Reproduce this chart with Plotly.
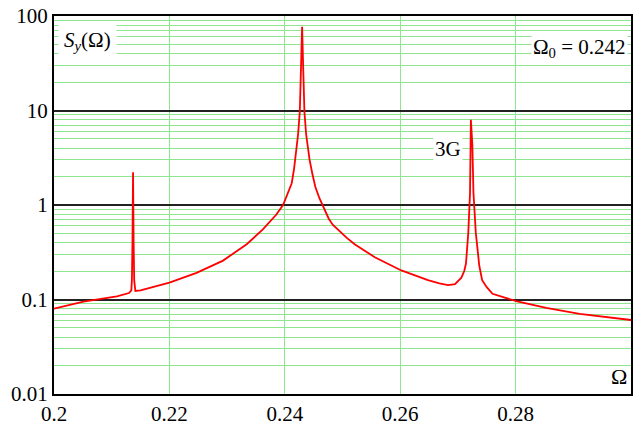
import plotly.graph_objects as go

omega = [0.2000, 0.2051, 0.2109, 0.2130, 0.2134, 0.2135, 0.2136, 0.2137, 0.2138, 0.2139,
         0.2141, 0.2150, 0.2200, 0.2247, 0.2293, 0.2334, 0.2362, 0.2385, 0.2397, 0.2405,
         0.2412, 0.2416, 0.2419, 0.2423, 0.2426, 0.2428, 0.2430, 0.2432, 0.2434, 0.2437,
         0.2440, 0.2443, 0.2448, 0.2453, 0.2460, 0.2466, 0.2471, 0.2476, 0.2483, 0.2492,
         0.2507, 0.2521, 0.2556, 0.2602, 0.2648, 0.2668, 0.2683, 0.2695, 0.2706, 0.2711,
         0.2714, 0.2718, 0.2721, 0.2722, 0.27225, 0.2725, 0.2727, 0.2731, 0.2737, 0.2742,
         0.2750, 0.2760, 0.2786, 0.2801, 0.2853, 0.2911, 0.3000]
s_y = [0.080, 0.095, 0.108, 0.117, 0.125, 0.16, 0.40, 2.22, 0.40, 0.16,
       0.123, 0.125, 0.151, 0.191, 0.258, 0.385, 0.551, 0.789, 1.0, 1.30,
       1.70, 2.40, 3.45, 5.57, 9.7, 27, 77, 27, 9.7, 5.57,
       4.0, 3.0, 2.1, 1.55, 1.18, 0.98, 0.83, 0.72, 0.62, 0.55,
       0.452, 0.385, 0.28, 0.203, 0.160, 0.148, 0.142, 0.145, 0.17, 0.20,
       0.24, 0.51, 1.33, 4.4, 7.96, 4.4, 1.33, 0.51, 0.229, 0.16,
       0.135, 0.115, 0.103, 0.096, 0.0815, 0.0705, 0.0607]

x_ticks = [0.2, 0.22, 0.24, 0.26, 0.28]
x_labels = ["0.2", "0.22", "0.24", "0.26", "0.28"]
y_ticks = [0.01, 0.1, 1, 10, 100]
y_labels = ["0.01", "0.1", "1", "10", "100"]
y_minor = [k * 10 ** e for e in range(-2, 2) for k in range(2, 10)]

FONT = "Liberation Serif"
GREEN = "#8fe68f"
FS = 21

fig = go.Figure()
fig.add_trace(go.Scatter(x=omega, y=s_y, mode="lines",
                         line=dict(color="#ff0000", width=1.8), showlegend=False))

fig.update_layout(
    width=637, height=430,
    margin=dict(l=54, r=4, t=12, b=33),
    paper_bgcolor="white", plot_bgcolor="white",
    font=dict(family=FONT, size=FS, color="black"),
    xaxis=dict(range=[0.2, 0.3], tickmode="array", tickvals=x_ticks, ticktext=x_labels,
               showgrid=True, gridcolor=GREEN, gridwidth=1, zeroline=False,
               showline=True, linecolor="black", linewidth=2, mirror=True,
               ticks="", ticklen=0, tickfont=dict(family=FONT, size=FS)),
    yaxis=dict(type="log", range=[-2, 2], tickmode="array", tickvals=y_ticks, ticktext=y_labels,
               showgrid=True, gridcolor="#222222", gridwidth=1.5, zeroline=False,
               showline=True, linecolor="black", linewidth=2, mirror=True,
               ticks="", ticklen=0, tickfont=dict(family=FONT, size=FS),
               minor=dict(tickmode="array", tickvals=y_minor, showgrid=True,
                          gridcolor=GREEN, gridwidth=1, ticks="")),
)

fig.add_annotation(xref="paper", yref="paper", x=0.007, y=0.985, xanchor="left", yanchor="top",
                   text="<i>S</i><sub><i>y</i></sub>(Ω)", showarrow=False,
                   bgcolor="white", font=dict(family=FONT, size=FS), borderpad=5)
fig.add_annotation(xref="paper", yref="paper", x=0.995, y=0.955, xanchor="right", yanchor="top",
                   text="Ω<sub>0</sub> = 0.242", showarrow=False,
                   bgcolor="white", font=dict(family=FONT, size=FS), borderpad=1)
fig.add_annotation(xref="x", yref="y", x=0.2709, y=0.59, text="3G", showarrow=False,
                   xanchor="right", yanchor="middle",
                   bgcolor="white", font=dict(family=FONT, size=FS))
fig.add_annotation(xref="paper", yref="paper", x=0.997, y=0.008, xanchor="right", yanchor="bottom",
                   text="Ω", showarrow=False, font=dict(family=FONT, size=22))

fig.write_html("out.html", config={"displayModeBar": False},
               post_script="document.body.style.margin='0';document.body.style.overflow='hidden';")
